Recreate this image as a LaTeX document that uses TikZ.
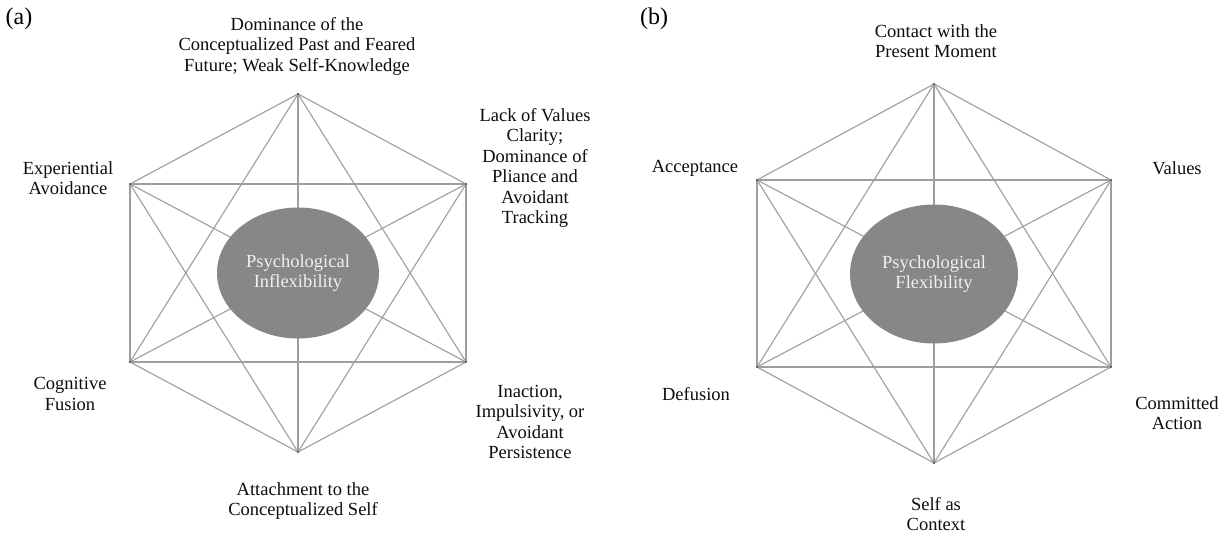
\documentclass[tikz,border=0pt]{standalone}
\usepackage{fontspec}
\setmainfont{Liberation Serif}
\usetikzlibrary{shapes.geometric}
\begin{document}
\begin{tikzpicture}[x=1pt,y=-1pt,
  lbl/.style={align=center,font=\fontsize{18.5}{20.5}\selectfont,text=black!95,inner sep=0pt},
  panel/.style={font=\fontsize{24}{26}\selectfont,text=black,inner sep=0pt},
  edge/.style={draw=black!38,line width=1.1pt},
  core/.style={ellipse,fill=black!47,draw=none,inner sep=0pt,align=center,
    text=white!94!black,font=\fontsize{18.5}{20.5}\selectfont},
  vdot/.style={fill=black!70}]
\useasboundingbox (0,0) rectangle (1231,536);
\fill[white] (0,0) rectangle (1231,536);

% ---------- panel (a) ----------
\coordinate (aT)  at (298,94);
\coordinate (aUR) at (466,184);
\coordinate (aLR) at (466,362);
\coordinate (aB)  at (298,452);
\coordinate (aLL) at (130,362);
\coordinate (aUL) at (130,184);
\foreach \p/\q in {aT/aUR,aUR/aLR,aLR/aB,aB/aLL,aLL/aUL,aUL/aT,
                   aT/aLR,aUR/aB,aLR/aLL,aB/aUL,aLL/aT,aUL/aUR,
                   aT/aB,aUR/aLL,aLR/aUL}
  \draw[edge] (\p) -- (\q);
\foreach \v in {aT,aUR,aLR,aB,aLL,aUL} \fill[vdot] (\v) circle (1.2);
\node[core,minimum width=162,minimum height=131] (aC) at (298,273)
  {Psychological\\Inflexibility};

\node[panel] (aLab) at (19,19) {(a)};
\node[lbl] (aTt) at (297,46) {Dominance of the\\Conceptualized Past and Feared\\Future; Weak Self-Knowledge};
\node[lbl] (aURt) at (535,168) {Lack of Values\\Clarity;\\Dominance of\\Pliance and\\Avoidant\\Tracking};
\node[lbl] (aULt) at (68,178) {Experiential\\Avoidance};
\node[lbl] (aLLt) at (70,394) {Cognitive\\Fusion};
\node[lbl] (aLRt) at (530,422) {Inaction,\\Impulsivity, or\\Avoidant\\Persistence};
\node[lbl] (aBt) at (303,501) {Attachment to the\\Conceptualized Self};

% ---------- panel (b) ----------
\coordinate (bT)  at (934,84);
\coordinate (bUR) at (1111,180);
\coordinate (bLR) at (1111,367);
\coordinate (bB)  at (934,463);
\coordinate (bLL) at (757,367);
\coordinate (bUL) at (757,180);
\foreach \p/\q in {bT/bUR,bUR/bLR,bLR/bB,bB/bLL,bLL/bUL,bUL/bT,
                   bT/bLR,bUR/bB,bLR/bLL,bB/bUL,bLL/bT,bUL/bUR,
                   bT/bB,bUR/bLL,bLR/bUL}
  \draw[edge] (\p) -- (\q);
\foreach \v in {bT,bUR,bLR,bB,bLL,bUL} \fill[vdot] (\v) circle (1.2);
\node[core,minimum width=168,minimum height=139] (bC) at (934,274)
  {Psychological\\Flexibility};

\node[panel] (bLab) at (654,19) {(b)};
\node[lbl] (bTt) at (936,41) {Contact with the\\Present Moment};
\node[lbl] (bULt) at (695,168) {Acceptance};
\node[lbl] (bURt) at (1177,168) {Values};
\node[lbl] (bLLt) at (696,394) {Defusion};
\node[lbl] (bLRt) at (1177,413) {Committed\\Action};
\node[lbl] (bBt) at (936,514) {Self as\\Context};
\end{tikzpicture}
\end{document}
